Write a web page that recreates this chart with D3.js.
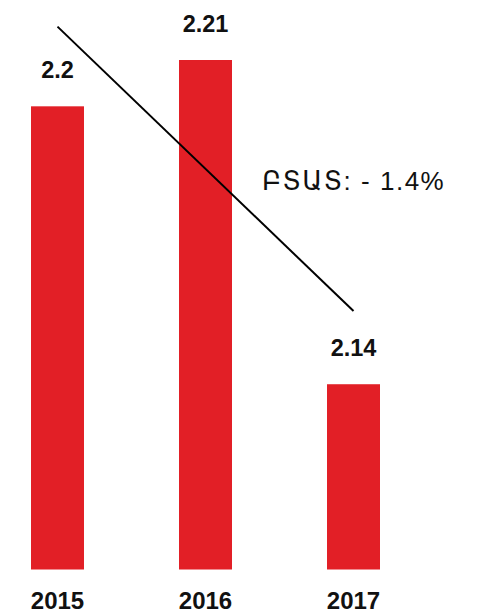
<!DOCTYPE html>
<html>
<head>
<meta charset="utf-8">
<script src="https://cdn.jsdelivr.net/npm/d3@7"></script>
<style>
  html, body { margin: 0; padding: 0; background: #fff; }
  svg { display: block; }
</style>
</head>
<body>
<script>
const years = ["2015", "2016", "2017"];
const values = [2.2, 2.21, 2.14];
const valueLabels = ["2.2", "2.21", "2.14"];
const trendYears = ["2015", "2017"];
const trendValues = [2.2172, 2.1558];
const annotation = "ԲՏԱՏ: - 1.4%";

const W = 480, H = 613;
const svg = d3.select("body").append("svg").attr("width", W).attr("height", H);

const x = d3.scaleBand().domain(years).range([31, 380]).paddingInner(0.642).paddingOuter(0);
const y = d3.scaleLinear().domain([2.1, 2.21]).range([569.5, 60]);

const data = years.map((yr, i) => ({ yr, v: values[i], lab: valueLabels[i] }));

svg.selectAll("rect.bar").data(data).enter().append("rect")
  .attr("class", "bar")
  .attr("x", d => x(d.yr))
  .attr("y", d => y(d.v))
  .attr("width", x.bandwidth())
  .attr("height", d => y.range()[0] - y(d.v))
  .attr("fill", "#e21f26");

svg.selectAll("text.val").data(data).enter().append("text")
  .attr("class", "val")
  .attr("x", d => x(d.yr) + x.bandwidth() / 2)
  .attr("y", d => y(d.v) - 28)
  .attr("text-anchor", "middle")
  .attr("font-family", "Liberation Sans, Arial, sans-serif")
  .attr("font-weight", "bold")
  .attr("font-size", "23.5px")
  .attr("fill", "#111")
  .text(d => d.lab);

// x axis labels (no axis line)
const xAxis = d3.axisBottom(x).tickSize(0).tickPadding(0);
const gx = svg.append("g").attr("transform", "translate(0,592)").call(xAxis);
gx.select(".domain").remove();
gx.selectAll("text")
  .attr("dy", 0)
  .attr("y", 17)
  .attr("font-family", "Liberation Sans, Arial, sans-serif")
  .attr("font-weight", "bold")
  .attr("font-size", "24px")
  .attr("fill", "#111");

// trend line
const trend = trendYears.map((yr, i) => [x(yr) + x.bandwidth() / 2, y(trendValues[i])]);
svg.append("path")
  .attr("d", d3.line()(trend))
  .attr("stroke", "#000")
  .attr("stroke-width", 2)
  .attr("fill", "none");

svg.append("text")
  .attr("x", 262)
  .attr("y", 190)
  .attr("font-family", "Liberation Sans, Arial, DejaVu Sans, sans-serif")
  .attr("font-size", "26px")
  .attr("letter-spacing", "1.5px")
  .attr("fill", "#111")
  .text(annotation);
</script>
</body>
</html>
